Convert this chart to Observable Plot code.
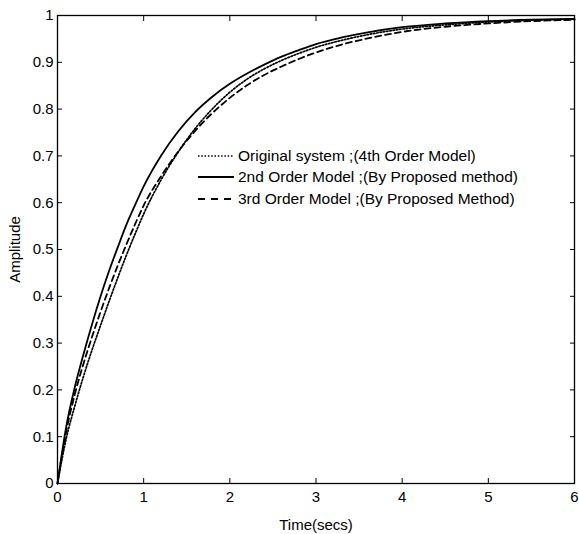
<!DOCTYPE html>
<html><head><meta charset="utf-8">
<script src="https://cdn.jsdelivr.net/npm/d3@7"></script>
<script src="https://cdn.jsdelivr.net/npm/@observablehq/plot@0.6"></script>
<style>
html,body{margin:0;padding:0;background:#fff;}
#wrap{position:relative;width:579px;height:534px;font-family:"Liberation Sans",Arial,sans-serif;}
#legend{position:absolute;left:197px;top:145px;font-size:15.5px;color:#000;}
.row{display:flex;align-items:center;height:21.5px;white-space:nowrap;}
.row svg{margin-right:3px;}
</style></head><body><div id="wrap"></div>
<script>
const time = [0,0.1,0.2,0.3,0.4,0.5,0.6,0.7,0.8,0.9,1.0,1.2,1.4,1.6,1.8,2.0,2.2,2.4,2.6,2.8,3.0,3.3,3.6,4.0,4.5,5.0,5.5,6.0];
const original = [0,0.095,0.165,0.228,0.285,0.338,0.39,0.44,0.488,0.533,0.576,0.648,0.708,0.759,0.801,0.836,0.864,0.886,0.904,0.919,0.932,0.947,0.959,0.971,0.98,0.986,0.99,0.992];
const second = [0,0.12,0.205,0.275,0.34,0.40,0.455,0.505,0.553,0.595,0.635,0.70,0.752,0.794,0.827,0.854,0.876,0.895,0.912,0.926,0.939,0.953,0.964,0.975,0.983,0.988,0.991,0.993];
const third = [0,0.11,0.19,0.255,0.313,0.367,0.418,0.466,0.511,0.554,0.594,0.656,0.709,0.754,0.792,0.824,0.851,0.873,0.891,0.907,0.921,0.938,0.951,0.965,0.976,0.983,0.988,0.991];
const seriesNames = ["Original system ;(4th Order Model)", "2nd Order Model ;(By Proposed method)", "3rd Order Model ;(By Proposed Method)"];
const xTicks = [0,1,2,3,4,5,6];
const yTicks = [0,0.1,0.2,0.3,0.4,0.5,0.6,0.7,0.8,0.9,1];
const xLabel = "Time(secs)";
const yLabel = "Amplitude";

const styles = [
  {dash: "1.5,1.8", width: 1.7},
  {dash: null, width: 1.8},
  {dash: "6,4", width: 1.8}
];
const seriesValues = [original, second, third];
const rows = [];
seriesValues.forEach((vals, s) => vals.forEach((v, i) => rows.push({t: time[i], v, s})));

const lineMarks = seriesValues.map((vals, s) =>
  Plot.line(rows.filter(d => d.s === s), {x: "t", y: "v", stroke: "black", strokeWidth: styles[s].width, strokeDasharray: styles[s].dash, curve: "monotone-x"})
);

const fmt = d => String(d);
const chart = Plot.plot({
  width: 579, height: 534,
  marginLeft: 57, marginRight: 5, marginTop: 15, marginBottom: 51,
  style: {fontFamily: "'Liberation Sans', Arial, sans-serif", fontSize: "15px", color: "black", background: "white"},
  x: {domain: [0, 6]},
  y: {domain: [0, 1]},
  marks: [
    Plot.frame({stroke: "black", strokeWidth: 1.3}),
    Plot.axisX({ticks: xTicks, tickFormat: fmt, tickSize: -5, tickPadding: 13, label: null}),
    Plot.axisX({anchor: "top", ticks: xTicks, tickSize: -5, tickFormat: () => "", label: null}),
    Plot.axisY({ticks: yTicks, tickFormat: fmt, tickSize: -5, tickPadding: 9, label: null}),
    Plot.axisY({anchor: "right", ticks: yTicks, tickSize: -5, tickFormat: () => "", label: null}),
    Plot.axisX({ticks: [], label: xLabel, labelAnchor: "center", labelArrow: "none", labelOffset: 46}),
    Plot.axisY({ticks: [], label: yLabel, labelAnchor: "center", labelArrow: "none", labelOffset: 48}),
    ...lineMarks
  ]
});
chart.querySelectorAll("[aria-label$='axis label'] text, g[aria-label$='axis label']").forEach(el => el.setAttribute("font-size", "15"));
const wrap = document.getElementById("wrap");
wrap.appendChild(chart);

const legend = document.createElement("div");
legend.id = "legend";
seriesNames.forEach((name, s) => {
  const row = document.createElement("div");
  row.className = "row";
  const st = styles[s];
  row.innerHTML = `<svg width="38" height="10"><line x1="1" y1="5" x2="37" y2="5" stroke="black" stroke-width="${st.width}" ${st.dash ? `stroke-dasharray="${s===2 ? '7,6' : st.dash}"` : ""}/></svg><span>${name}</span>`;
  legend.appendChild(row);
});
wrap.appendChild(legend);
</script>
</body></html>
